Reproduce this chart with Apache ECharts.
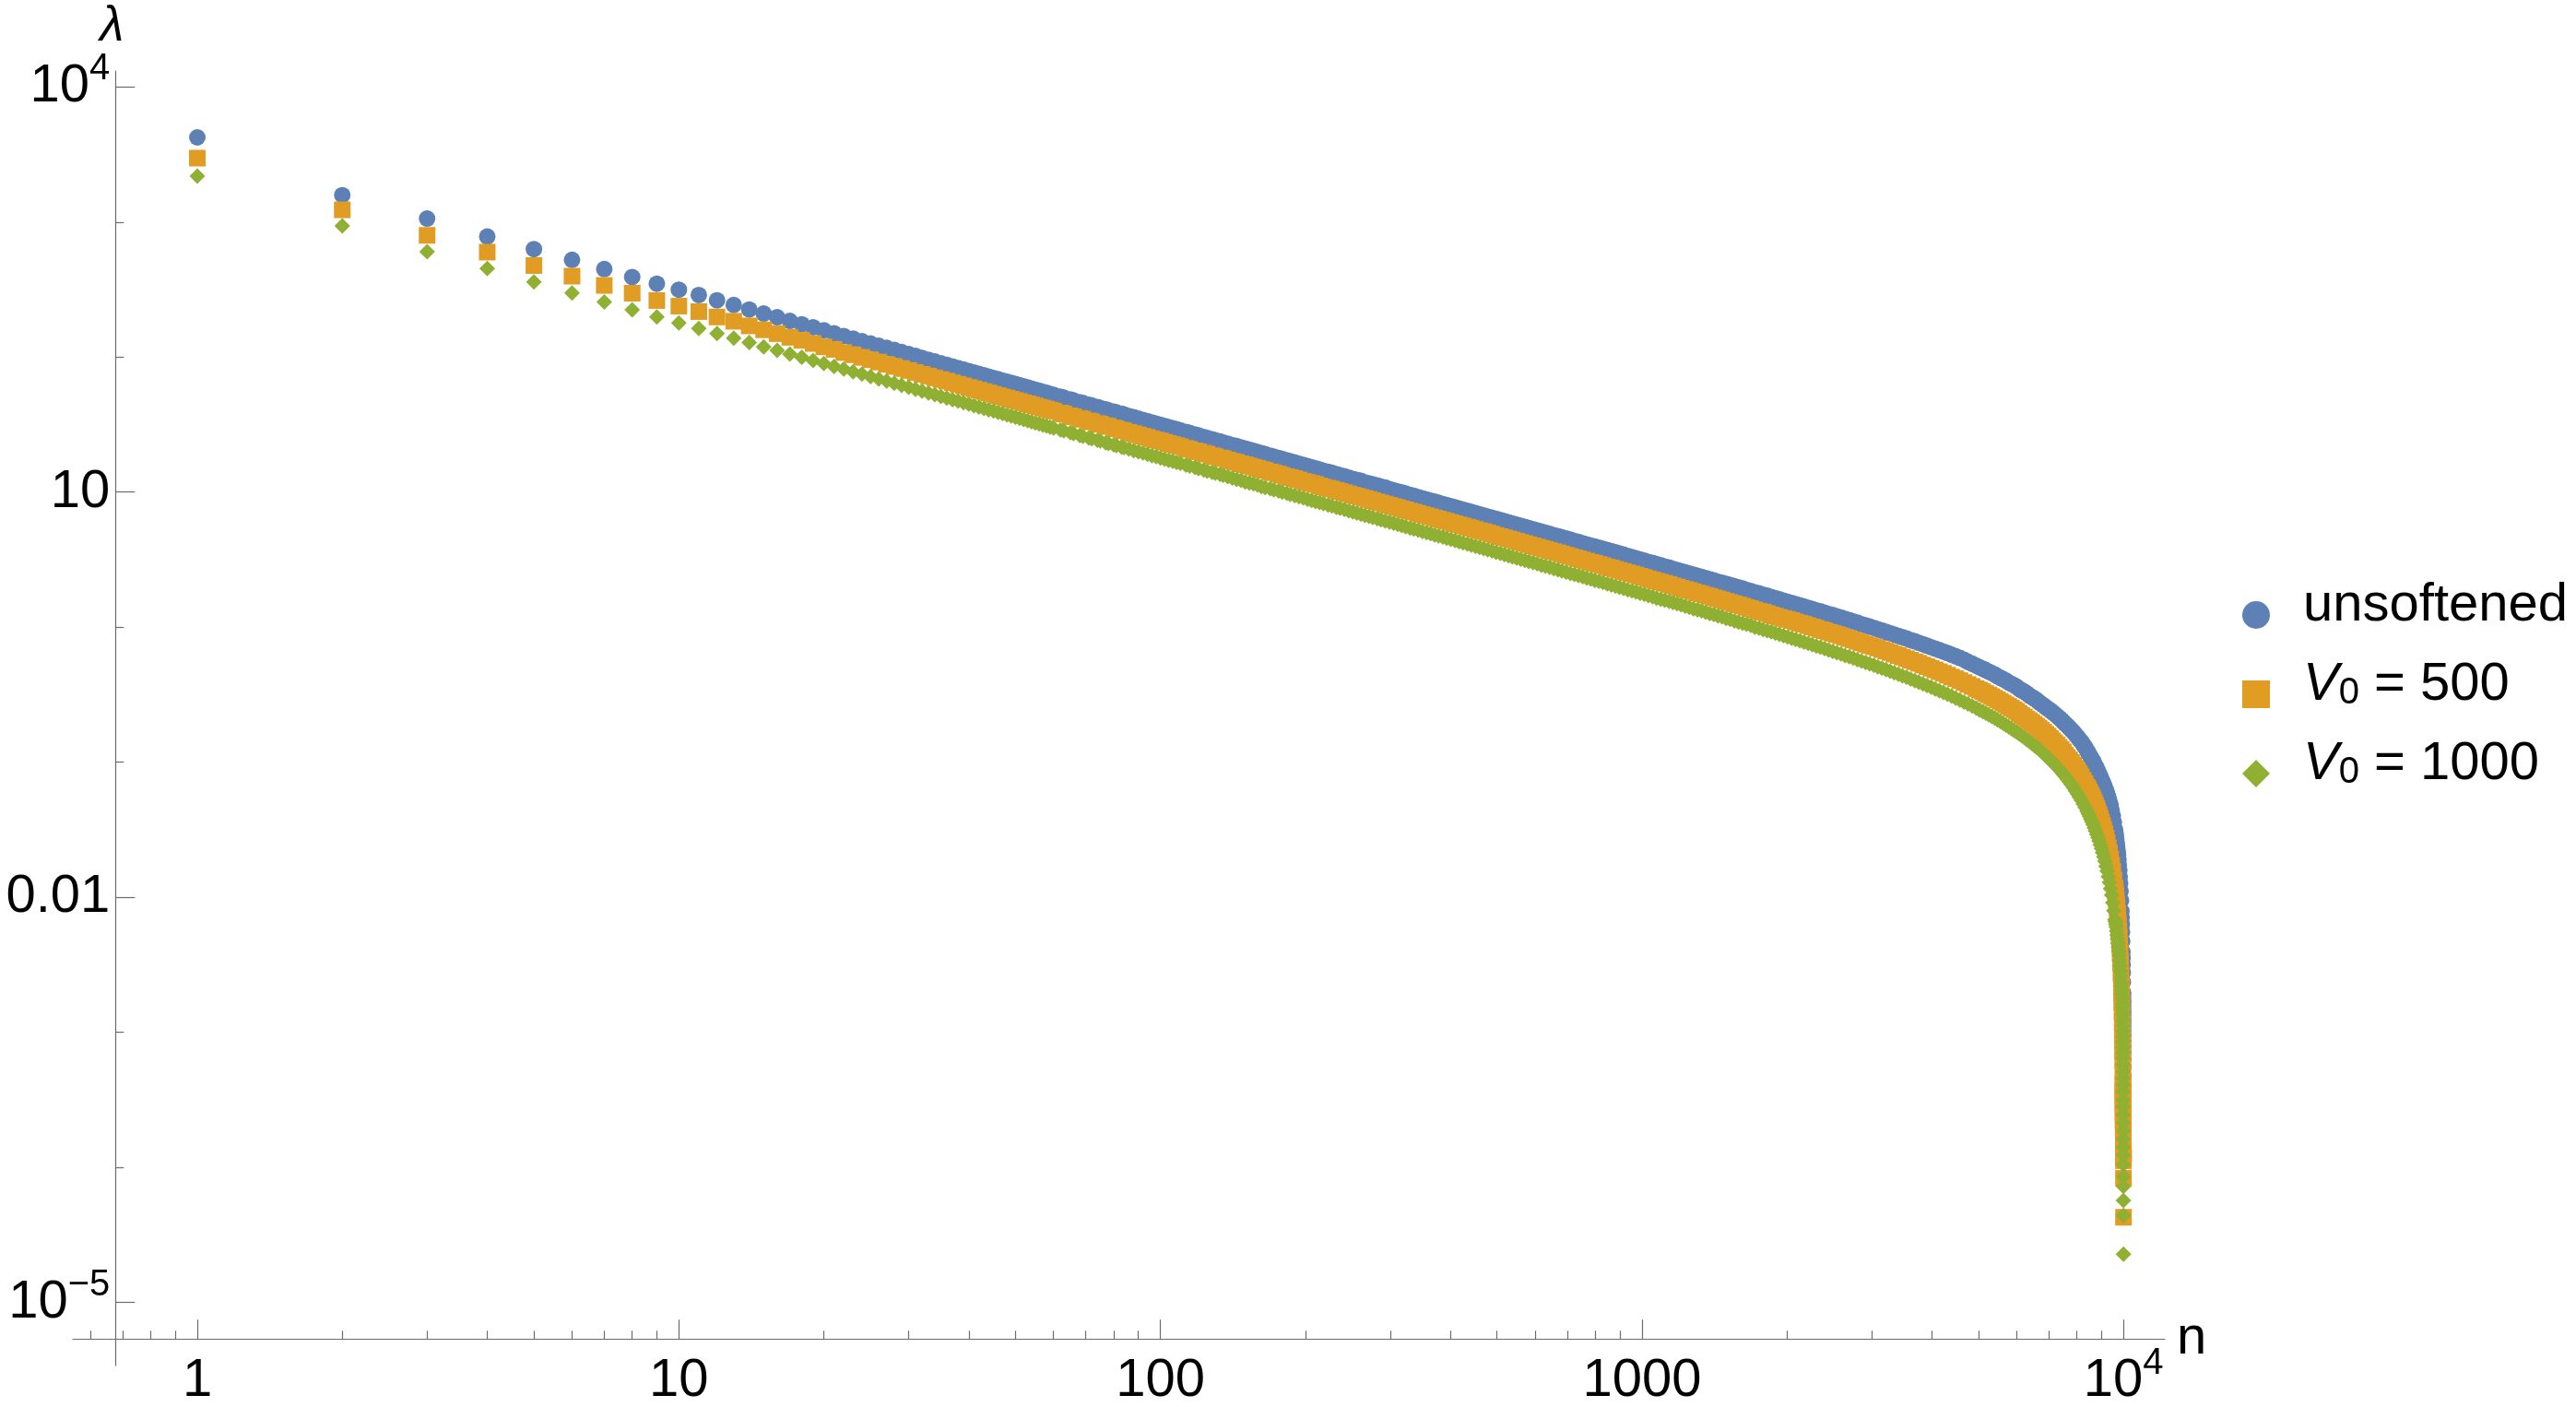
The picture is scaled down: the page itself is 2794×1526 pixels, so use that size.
<!DOCTYPE html>
<html>
<head>
<meta charset="utf-8">
<script src="https://cdn.jsdelivr.net/npm/echarts@6/dist/echarts.min.js"></script>
<style>
html,body{margin:0;padding:0;background:#fff;}
#chart{width:2794px;height:1526px;}
</style>
</head>
<body>
<div id="chart"></div>
<script>
// ---------- data ----------
const nValues = [
  1,2,3,4,5,6,7,8,9,10,11,12,13,14,15,16,17,18,19,20,21,22,23,24,25,26,27,28,29,30,31,32,33,34,35,36,37,38,39,40,
  41,42,43,44,45,46,47,48,49,50,51,52,53,54,55,56,57,58,59,60,
  62,63,65,66,68,69,71,72,74,75,77,78,80,81,83,84,86,88,90,92,94,96,98,100,
  102,104,106,108,110,113,115,118,120,123,125,128,130,133,135,138,141,144,147,150,
  153,156,159,162,165,169,172,176,179,183,186,190,194,198,202,206,210,214,218,223,
  227,232,236,241,246,251,256,261,266,271,276,282,287,293,299,305,311,317,323,330,
  336,343,350,357,364,371,378,386,393,401,409,417,425,434,442,451,460,469,478,488,
  498,508,518,528,538,549,560,571,582,594,606,618,630,643,656,669,682,696,710,724,
  738,753,768,783,798,814,830,847,864,881,898,916,934,953,972,991,
  1011,1031,1052,1072,1094,1115,1138,1160,1183,1206,1230,1254,1279,1304,1330,1356,1383,1410,1438,1466,
  1496,1525,1556,1586,1618,1649,1682,1715,1750,1784,1820,1855,1892,1929,1968,2006,2046,2086,2128,2170,
  2214,2257,2302,2347,2394,2441,2490,2539,2590,2640,2693,2746,2801,2856,2913,2970,3030,3089,3150,3212,
  3276,3341,3408,3474,3544,3613,3686,3758,3833,3908,3986,4064,4146,4227,4312,4396,4484,4572,4664,4755,
  4850,4945,5022,
  5100,5175,5250,5325,5400,5475,5550,5625,5700,5775,5850,5925,6000,6075,6150,6225,6300,6375,6450,6525,
  6600,6675,6750,6825,6900,6975,7050,7125,7200,7275,7350,7425,7500,7575,7650,7725,7800,7875,7950,8025,
  8100,8175,8250,8325,8400,8450,8500,8550,8600,8650,8700,8750,8800,8850,8900,8950,9000,
  9050,9100,9150,9200,9250,9300,9350,9400,9450,9500,9550,9600,9620,9640,9660,9680,9700,9720,9740,9760,
  9780,9800,9820,9840,9860,9880,9900,9910,9920,9930,9940,9950,9955,9960,9965,9970,
  9975,9976,9977,9978,9979,9980,9981,9982,9983,9984,9985,9986,9987,9988,9989,9990,9991,9992,9993,9994,9995,9996,9997,9998,9999,10000
];

const unsoftened = [
  4230,1580,1060,780,630,524,448,391,349,315,288,263,243,225,210,197,185,175,166,158,150,143,137,131,126,121,117,113,109,105,102,98.4,95.5,92.6,90.0,87.5,85.1,82.9,80.8,78.8,
  76.8,75.0,73.3,71.6,70.0,68.5,67.0,65.6,64.3,63.0,61.8,60.6,59.4,58.3,57.3,56.3,55.3,54.3,53.4,52.5,
  50.8,50.0,48.5,47.7,46.3,45.7,44.4,43.8,42.6,42.0,40.9,40.4,39.4,38.9,38.0,37.5,36.6,35.8,35.0,34.2,33.5,32.8,32.1,31.5,
  30.9,30.3,29.7,29.2,28.6,27.9,27.4,26.7,26.3,25.6,25.2,24.6,24.2,23.7,23.3,22.8,22.3,21.9,21.4,21.0,
  20.6,20.2,19.8,19.4,19.1,18.6,18.3,17.9,17.6,17.2,16.9,16.6,16.2,15.9,15.6,15.3,15.0,14.7,14.4,14.1,
  13.9,13.6,13.3,13.1,12.8,12.5,12.3,12.1,11.8,11.6,11.4,11.2,11.0,10.8,10.5,10.3,10.1,9.94,9.75,9.55,
  9.38,9.18,9.00,8.82,8.65,8.49,8.33,8.16,8.02,7.86,7.70,7.55,7.41,7.26,7.13,6.98,6.85,6.72,6.59,6.45,
  6.33,6.20,6.08,5.97,5.86,5.74,5.63,5.52,5.41,5.30,5.20,5.10,5.00,4.90,4.80,4.71,4.62,4.53,4.44,4.35,
  4.27,4.18,4.10,4.02,3.95,3.87,3.80,3.72,3.65,3.58,3.51,3.44,3.37,3.30,3.23,3.17,
  3.11,3.04,2.99,2.93,2.87,2.81,2.76,2.70,2.65,2.60,2.55,2.50,2.45,2.40,2.35,2.31,2.26,2.22,2.17,2.13,
  2.09,2.05,2.01,1.97,1.93,1.89,1.85,1.81,1.78,1.74,1.71,1.67,1.64,1.61,1.57,1.54,1.51,1.48,1.45,1.42,
  1.39,1.36,1.33,1.31,1.28,1.25,1.23,1.20,1.18,1.15,1.13,1.10,1.08,1.05,1.03,1.01,0.988,0.966,0.945,0.923,
  0.903,0.882,0.862,0.842,0.823,0.803,0.785,0.766,0.747,0.729,0.711,0.694,0.676,0.659,0.642,0.625,0.608,0.592,0.575,0.553,
  0.536,0.519,0.505,
  0.493,0.480,0.468,0.457,0.447,0.432,0.422,0.412,0.402,0.389,0.380,0.371,0.362,0.349,0.340,0.332,0.323,0.312,0.304,0.296,
  0.288,0.278,0.270,0.263,0.255,0.248,0.241,0.234,0.227,0.220,0.213,0.206,0.199,0.192,0.186,0.179,0.173,0.167,0.160,0.154,
  0.147,0.142,0.135,0.129,0.122,0.117,0.113,0.109,0.105,0.102,0.0970,0.0933,0.0896,0.0857,0.0818,0.0785,0.0745,
  0.0715,0.0683,0.0651,0.0618,0.0585,0.0551,0.0516,0.0480,0.0440,0.0399,0.0359,0.0318,0.0302,0.0286,0.0270,0.0254,0.0238,0.0222,0.0206,0.0190,
  0.0174,0.0158,0.0142,0.0127,0.0111,0.00948,0.00790,0.00710,0.00631,0.00552,0.00473,0.00394,0.00355,0.00315,0.00276,0.00236,
  0.00197,0.00189,0.00181,0.00173,0.00166,0.00158,0.00150,0.00142,0.00134,0.00126,0.00118,0.00111,0.00103,0.000947,0.000868,0.000789,0.000710,0.000631,0.000552,0.000473,0.000394,0.000315,0.000237,0.000158,0.000130,0.000120
];

const v0_500 = [
  2970,1230,796,598,476,397,339,297,262,238,217,198,184,170,159,149,140,133,126,119,114,108,104,99.4,95.4,91.7,88.3,85.2,82.2,79.5,76.9,74.5,72.3,70.1,68.1,66.3,64.5,62.8,61.2,59.6,
  58.2,56.8,55.5,54.2,53.0,51.8,50.7,49.7,48.7,47.7,46.8,45.9,45.0,44.2,43.4,42.6,41.8,41.1,40.4,39.8,
  38.5,37.9,36.7,36.1,35.1,34.6,33.6,33.1,32.2,31.8,31.0,30.6,29.8,29.4,28.7,28.4,27.7,27.1,26.5,25.9,25.4,24.8,24.3,23.9,
  23.4,22.9,22.5,22.1,21.7,21.1,20.7,20.2,19.9,19.4,19.1,18.6,18.3,17.9,17.7,17.3,16.9,16.6,16.2,15.9,
  15.6,15.3,15.0,14.7,14.5,14.1,13.9,13.6,13.3,13.0,12.8,12.6,12.3,12.0,11.8,11.6,11.4,11.1,10.9,10.7,
  10.5,10.3,10.1,9.90,9.70,9.50,9.32,9.14,8.97,8.80,8.64,8.46,8.31,8.14,7.98,7.82,7.67,7.52,7.38,7.23,
  7.10,6.95,6.81,6.68,6.55,6.43,6.31,6.18,6.07,5.95,5.83,5.72,5.61,5.50,5.40,5.29,5.18,5.09,4.99,4.89,
  4.77,4.68,4.59,4.50,4.42,4.33,4.24,4.16,4.08,4.00,3.92,3.84,3.77,3.69,3.62,3.55,3.48,3.41,3.34,3.27,
  3.21,3.15,3.08,3.02,2.97,2.91,2.85,2.79,2.74,2.68,2.63,2.58,2.53,2.48,2.43,2.38,
  2.33,2.28,2.24,2.19,2.15,2.11,2.07,2.02,1.98,1.94,1.90,1.87,1.83,1.79,1.76,1.72,1.69,1.65,1.62,1.585,
  1.55,1.52,1.49,1.46,1.43,1.40,1.37,1.34,1.31,1.29,1.26,1.23,1.21,1.18,1.16,1.14,1.12,1.09,1.07,1.05,
  1.025,1.003,0.981,0.958,0.938,0.917,0.900,0.880,0.861,0.840,0.822,0.803,0.784,0.765,0.747,0.730,0.716,0.699,0.681,0.665,
  0.649,0.631,0.616,0.600,0.584,0.569,0.554,0.540,0.524,0.510,0.496,0.482,0.468,0.455,0.441,0.427,0.415,0.402,0.389,0.376,
  0.364,0.351,0.342,
  0.333,0.323,0.315,0.306,0.298,0.290,0.282,0.274,0.266,0.259,0.252,0.245,0.238,0.229,0.222,0.216,0.209,0.203,0.197,0.191,
  0.185,0.179,0.173,0.167,0.161,0.156,0.150,0.144,0.139,0.134,0.129,0.124,0.119,0.113,0.108,0.104,0.0994,0.0949,0.0904,0.0861,
  0.0819,0.0777,0.0734,0.0694,0.0653,0.0628,0.0602,0.0577,0.0552,0.0527,0.0502,0.0478,0.0454,0.0430,0.0407,0.0384,0.0361,
  0.0339,0.0317,0.0295,0.0274,0.0253,0.0232,0.0212,0.0192,0.0173,0.0154,0.0135,0.0117,0.0110,0.0103,0.00961,0.00893,0.00825,0.00759,0.00694,0.00630,
  0.00567,0.00505,0.00445,0.00386,0.00328,0.00273,0.00219,0.00193,0.00167,0.00143,0.00118,0.000951,0.000838,0.000727,0.000620,0.000515,
  0.000414,0.000394,0.000374,0.000355,0.000336,0.000317,0.000298,0.000282,0.000269,0.000251,0.000240,0.000224,0.000214,0.000200,0.000191,0.000178,0.000166,0.000155,0.000145,0.000135,0.000129,0.000123,0.000117,0.000112,0.0000830,0.0000427
];

const v0_1000 = [
  2190,935,603,452,360,298,256,224,198,179,163,149,138,128,119,112,105,99.4,94.2,89.5,85.2,81.4,77.8,74.6,71.6,68.8,66.3,63.9,61.7,59.7,57.7,55.9,54.2,52.6,51.1,49.7,48.4,47.1,45.9,44.8,
  43.7,42.6,41.6,40.7,39.8,38.9,38.1,37.3,36.5,35.8,35.1,34.4,33.8,33.1,32.5,32.0,31.4,30.9,30.3,29.8,
  28.9,28.4,27.5,27.1,26.3,25.9,25.2,24.9,24.2,23.9,23.2,22.9,22.4,22.1,21.6,21.3,20.8,20.3,19.9,19.5,19.0,18.6,18.3,17.9,
  17.5,17.2,16.9,16.6,16.3,15.8,15.6,15.2,14.9,14.6,14.3,14.0,13.8,13.5,13.3,13.0,12.7,12.4,12.2,11.9,
  11.7,11.5,11.3,11.0,10.8,10.6,10.4,10.2,10.0,9.78,9.62,9.42,9.23,9.04,8.86,8.69,8.52,8.36,8.21,8.03,
  7.89,7.72,7.58,7.43,7.28,7.13,6.99,6.86,6.73,6.61,6.49,6.35,6.24,6.11,5.99,5.87,5.76,5.65,5.54,5.42,
  5.33,5.22,5.11,5.01,4.92,4.82,4.74,4.64,4.55,4.46,4.38,4.29,4.21,4.12,4.05,3.97,3.89,3.82,3.74,3.67,
  3.58,3.51,3.44,3.38,3.31,3.25,3.18,3.12,3.06,3.00,2.94,2.88,2.83,2.77,2.71,2.66,2.61,2.56,2.50,2.46,
  2.41,2.36,2.31,2.27,2.22,2.18,2.14,2.09,2.05,2.01,1.97,1.93,1.89,1.86,1.82,1.78,
  1.75,1.71,1.68,1.64,1.61,1.58,1.55,1.52,1.49,1.46,1.43,1.40,1.37,1.34,1.32,1.29,1.26,1.24,1.21,1.19,
  1.16,1.14,1.11,1.09,1.07,1.05,1.03,1.00,0.983,0.962,0.942,0.922,0.903,0.883,0.865,0.846,0.828,0.810,0.792,0.775,
  0.758,0.741,0.725,0.709,0.693,0.677,0.662,0.647,0.632,0.617,0.603,0.589,0.575,0.561,0.548,0.535,0.522,0.509,0.496,0.484,
  0.472,0.459,0.448,0.436,0.425,0.413,0.402,0.391,0.380,0.369,0.359,0.348,0.338,0.328,0.318,0.308,0.298,0.289,0.279,0.270,
  0.261,0.251,0.244,
  0.237,0.231,0.224,0.218,0.212,0.206,0.200,0.194,0.188,0.183,0.1775,0.172,0.167,0.162,0.157,0.152,0.147,0.143,0.138,0.133,
  0.129,0.125,0.120,0.116,0.112,0.108,0.104,0.100,0.0961,0.0924,0.0887,0.0851,0.0815,0.0780,0.0746,0.0712,0.0679,0.0647,0.0614,0.0583,
  0.0552,0.0522,0.0491,0.0463,0.0434,0.0416,0.0398,0.0380,0.0362,0.0345,0.0327,0.0310,0.0293,0.0277,0.0261,0.0245,0.0230,
  0.0214,0.0199,0.0185,0.0170,0.0156,0.0142,0.0129,0.0116,0.0104,0.00913,0.00795,0.00681,0.00661,0.00631,0.00603,0.00562,0.00525,0.00490,0.00457,0.00427,
  0.00398,0.00372,0.00339,0.00309,0.00282,0.00257,0.00234,0.00219,0.00204,0.00191,0.00178,0.00162,0.00155,0.00145,0.00135,0.00123,
  0.00112,0.00102,0.000933,0.000851,0.000776,0.000708,0.000646,0.000575,0.000513,0.000457,0.000407,0.000363,0.000316,0.000282,0.000245,0.000214,0.000186,0.000162,0.000141,0.000123,0.000105,0.0000851,0.0000724,0.0000569,0.0000441,0.0000228
];

const seriesNames = ['unsoftened', 'V0 = 500', 'V0 = 1000'];
const xMajorTicks = [1, 10, 100, 1000, 10000];
const xMinorTicks = [0.6,0.7,0.8,0.9,2,3,4,5,6,7,8,9,20,30,40,50,60,70,80,90,200,300,400,500,600,700,800,900,2000,3000,4000,5000,6000,7000,8000,9000];
const yMajorTicks = [1e-5, 0.01, 10, 1e4];
const yMinorTicks = [1e-4, 1e-3, 0.1, 1, 100, 1000];

// ---------- checks ----------
[unsoftened, v0_500, v0_1000].forEach(function (a, i) {
  if (a.length !== nValues.length) throw new Error('length mismatch in series ' + i + ': ' + a.length + ' vs ' + nValues.length);
});

// ---------- chart ----------
const FONT = '"Liberation Sans", Arial, Helvetica, sans-serif';
const AXIS_COLOR = '#6b6b6b';
const COLORS = ['#5E81B5', '#E19C24', '#8FB032'];
const SYMBOLS = ['circle', 'rect', 'diamond'];
const SYMBOL_SIZES = [18, 18, 17];

function pairs(arr) { return nValues.map(function (n, i) { return [n, arr[i]]; }); }

function powLabel(v, plainFmt) {
  const e = Math.round(Math.log10(v));
  if (e === 4) return '{b|10}{s|4}';
  if (e === -5) return '{b|10}{s|\u22125}';
  return '{b|' + plainFmt(e) + '}';
}

const richLabel = {
  b: { fontFamily: FONT, fontSize: 58, lineHeight: 78, color: '#000' },
  s: { fontFamily: FONT, fontSize: 40, lineHeight: 40, verticalAlign: 'top', color: '#000' }
};

const grid = { left: 79, top: 77, width: 2269, height: 1404, containLabel: false, outerBoundsMode: 'none' };
const xMin = 0.5514, xMax = 12184;
const yMin = 3.41e-6, yMax = 13120;

const chart = echarts.init(document.getElementById('chart'), null, { renderer: 'canvas' });

chart.setOption({
  animation: false,
  backgroundColor: '#ffffff',
  grid: grid,
  legend: {
    orient: 'vertical',
    left: 2432,
    top: 628,
    padding: 0,
    itemWidth: 30,
    itemHeight: 30,
    itemGap: 28,
    selectedMode: false,
    data: seriesNames.map(function (nm, i) { return { name: nm, icon: SYMBOLS[i] }; }),
    formatter: function (name) {
      if (name === 'unsoftened') return '{u|unsoftened}';
      return '{v|V}{s|0}{t| = ' + name.split('= ')[1] + '}';
    },
    textStyle: {
      fontFamily: FONT, fontSize: 58, color: '#000',
      padding: [0, 0, 20, 31],
      rich: {
        u: { fontFamily: FONT, fontSize: 58, lineHeight: 58, color: '#000' },
        v: { fontFamily: FONT, fontSize: 58, lineHeight: 58, fontStyle: 'italic', color: '#000' },
        s: { fontFamily: FONT, fontSize: 40, lineHeight: 30, verticalAlign: 'bottom', color: '#000' },
        t: { fontFamily: FONT, fontSize: 58, lineHeight: 58, color: '#000' }
      }
    }
  },
  xAxis: [
    {
      type: 'log', logBase: 10, min: xMin, max: xMax, position: 'bottom', offset: -28.7,
      name: 'n', nameLocation: 'end', nameGap: 13,
      nameTextStyle: { fontFamily: FONT, fontSize: 58, color: '#000', align: 'left', verticalAlign: 'middle' },
      axisLine: { show: true, onZero: false, lineStyle: { color: AXIS_COLOR, width: 1.2 } },
      axisTick: { show: true, inside: true, length: 21, customValues: xMajorTicks, lineStyle: { color: AXIS_COLOR, width: 1.2 } },
      minorTick: { show: false },
      splitLine: { show: false },
      axisLabel: {
        show: true, margin: 7, customValues: xMajorTicks,
        formatter: function (v) { return powLabel(v, function (e) { return String(Math.pow(10, e)); }); },
        rich: richLabel
      }
    },
    {
      type: 'log', logBase: 10, min: xMin, max: xMax, position: 'bottom', offset: -28.7,
      axisLine: { show: false, onZero: false },
      axisTick: { show: true, inside: true, length: 9, customValues: xMinorTicks, lineStyle: { color: AXIS_COLOR, width: 1.2 } },
      axisLabel: { show: false },
      splitLine: { show: false }
    }
  ],
  yAxis: [
    {
      type: 'log', logBase: 10, min: yMin, max: yMax, position: 'left', offset: -46.3,
      name: '\u03BB', nameLocation: 'end', nameGap: 42,
      nameTextStyle: { fontFamily: FONT, fontSize: 53, fontStyle: 'italic', color: '#000', align: 'center', verticalAlign: 'middle', padding: [0, 8, 0, 0] },
      axisLine: { show: true, onZero: false, lineStyle: { color: AXIS_COLOR, width: 1.2 } },
      axisTick: { show: true, inside: true, length: 21, customValues: yMajorTicks, lineStyle: { color: AXIS_COLOR, width: 1.2 } },
      minorTick: { show: false },
      splitLine: { show: false },
      axisLabel: {
        show: true, margin: 6, customValues: yMajorTicks,
        formatter: function (v) { return powLabel(v, function (e) { return e === -2 ? '0.01' : String(Math.pow(10, e)); }); },
        rich: richLabel
      }
    },
    {
      type: 'log', logBase: 10, min: yMin, max: yMax, position: 'left', offset: -46.3,
      axisLine: { show: false, onZero: false },
      axisTick: { show: true, inside: true, length: 9, customValues: yMinorTicks, lineStyle: { color: AXIS_COLOR, width: 1.2 } },
      axisLabel: { show: false },
      splitLine: { show: false }
    }
  ],
  series: [unsoftened, v0_500, v0_1000].map(function (arr, i) {
    return {
      name: seriesNames[i],
      type: 'scatter',
      xAxisIndex: 0,
      yAxisIndex: 0,
      symbol: SYMBOLS[i],
      symbolSize: SYMBOL_SIZES[i],
      large: false,
      progressive: 0,
      itemStyle: { color: COLORS[i], opacity: 1 },
      emphasis: { disabled: true },
      data: pairs(arr)
    };
  })
});
</script>
</body>
</html>
